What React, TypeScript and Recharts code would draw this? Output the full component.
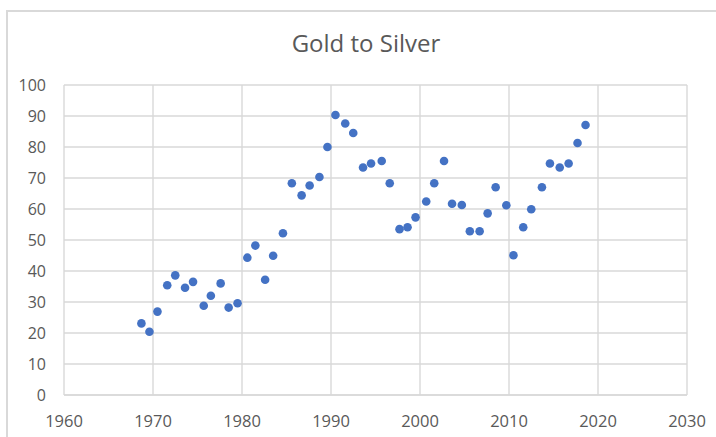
import React from "react";
import {
  ScatterChart,
  Scatter,
  XAxis,
  YAxis,
  CartesianGrid,
} from "recharts";

const years = [
  1968.7, 1969.6, 1970.5, 1971.6, 1972.5, 1973.6, 1974.5, 1975.7, 1976.5, 1977.6,
  1978.5, 1979.5, 1980.6, 1981.5, 1982.6, 1983.5, 1984.6, 1985.6, 1986.7, 1987.6,
  1988.7, 1989.6, 1990.5, 1991.6, 1992.5, 1993.6, 1994.5, 1995.7, 1996.6, 1997.7,
  1998.6, 1999.5, 2000.7, 2001.6, 2002.7, 2003.6, 2004.7, 2005.6, 2006.7, 2007.6,
  2008.5, 2009.7, 2010.5, 2011.6, 2012.5, 2013.7, 2014.6, 2015.7, 2016.7, 2017.7,
  2018.6,
];

const ratios = [
  23.1, 20.4, 26.9, 35.4, 38.6, 34.6, 36.5, 28.8, 32.0, 36.0,
  28.2, 29.6, 44.3, 48.2, 37.2, 44.9, 52.2, 68.3, 64.4, 67.6,
  70.3, 80.0, 90.3, 87.6, 84.5, 73.4, 74.7, 75.5, 68.3, 53.5,
  54.1, 57.3, 62.4, 68.3, 75.5, 61.7, 61.3, 52.8, 52.8, 58.6,
  67.0, 61.2, 45.1, 54.1, 59.9, 67.0, 74.7, 73.4, 74.7, 81.3,
  87.1,
];

const xTicks = [1960, 1970, 1980, 1990, 2000, 2010, 2020, 2030];
const yTicks = [0, 10, 20, 30, 40, 50, 60, 70, 80, 90, 100];

const data = years.map((year, i) => ({ year, ratio: ratios[i] }));

const GRID = "#d9d9d9";
const TEXT = "#595959";
const FONT = "'Open Sans', sans-serif";

const Dot = (props: any) => (
  <circle cx={props.cx} cy={props.cy} r={4.3} fill="#4472C4" />
);

export default function App() {
  return (
    <div
      style={{
        position: "absolute",
        left: 0,
        top: 0,
        width: 716,
        height: 437,
        background: "#fff",
        overflow: "hidden",
        fontFamily: FONT,
      }}
    >
      <div
        style={{
          position: "absolute",
          left: 6,
          top: 10,
          width: 720,
          height: 440,
          borderLeft: `2px solid ${GRID}`,
          borderTop: `2px solid ${GRID}`,
        }}
      />
      <div
        style={{
          position: "absolute",
          left: 0,
          width: 732,
          top: 26,
          textAlign: "center",
          fontSize: 24,
          lineHeight: "34px",
          color: TEXT,
        }}
      >
        Gold to Silver
      </div>
      <ScatterChart
        width={716}
        height={437}
        margin={{ top: 85, right: 29, bottom: 12, left: 24 }}
        style={{ position: "absolute", left: 0, top: 0 }}
      >
        <CartesianGrid stroke={GRID} strokeWidth={1.4} />
        <XAxis
          type="number"
          dataKey="year"
          domain={[1960, 2030]}
          ticks={xTicks}
          height={30}
          tickSize={0}
          tickMargin={20}
          axisLine={{ stroke: GRID, strokeWidth: 1.4 }}
          tick={{ fill: TEXT, fontSize: 16.5, fontFamily: FONT }}
        />
        <YAxis
          type="number"
          dataKey="ratio"
          domain={[0, 100]}
          ticks={yTicks}
          width={40}
          tickSize={0}
          tickMargin={18}
          axisLine={false}
          tick={{ fill: TEXT, fontSize: 16, fontFamily: FONT }}
        />
        <Scatter data={data} shape={Dot} isAnimationActive={false} />
      </ScatterChart>
    </div>
  );
}
